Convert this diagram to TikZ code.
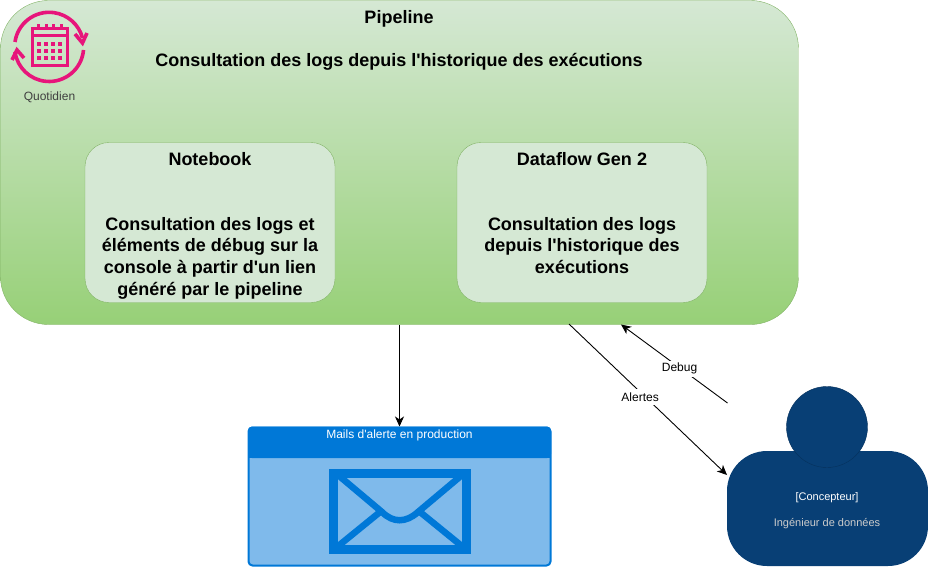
\documentclass[tikz,border=0pt]{standalone}
\usepackage{fontspec}
\setmainfont{Liberation Sans}[Ligatures=TeXOff]
\usetikzlibrary{arrows.meta}

\definecolor{greenline}{HTML}{82B366}
\definecolor{greenpale}{HTML}{D5E8D4}
\definecolor{greenstrong}{HTML}{97D077}
\definecolor{pinkicon}{HTML}{E7157B}
\definecolor{mailblue}{HTML}{0078D7}
\definecolor{mailpale}{HTML}{7FBAEB}
\definecolor{personblue}{HTML}{083F75}
\definecolor{personline}{HTML}{06315C}

\tikzset{
	bigtext/.style={font=\bfseries\fontsize{18}{21.67}\selectfont,align=center,inner sep=0pt},
	smalltext/.style={font=\fontsize{12}{14}\selectfont,align=center,inner sep=0pt},
	activitybox/.style={draw=greenline,fill=greenpale,rounded corners=24pt,minimum width=250pt,minimum height=160pt,bigtext},
	flowline/.style={draw=black,line width=0.9pt,-{Stealth[length=10pt,width=9pt,inset=3pt]}},
	flowlabel/.style={smalltext,fill=white,inner xsep=1pt,inner ysep=0pt,minimum height=16pt},
	pinkline/.style={draw=pinkicon,line width=3.6pt},
	maillines/.style={draw=mailblue,line width=6.5pt},
}

\begin{document}
\begin{tikzpicture}[x=1pt,y=-1pt]
	\useasboundingbox (0,0) rectangle (928,567);

	% pipeline
	\node[draw=greenline,top color=greenpale,bottom color=greenstrong,rounded corners=48pt,minimum width=798pt,minimum height=324pt,inner sep=0pt] (pipeline) at (399.5,162.5) {};
	\node[bigtext] (pipelinetitle) at (399,18.5) {Pipeline};
	\node[bigtext] (pipelinetext) at (399,61.5) {Consultation des logs depuis l'historique des exécutions};

	\node[activitybox] (notebook) at (210,222.5)
	{
		\rule{0pt}{19pt}Notebook\\
		\\
		\\
		Consultation des logs et\\
		éléments de débug sur la\\
		console à partir d'un lien\\
		généré par le pipeline
	};
	\node[activitybox] (dataflow) at (582,222.5)
	{
		\rule{0pt}{15.5pt}Dataflow Gen 2\\
		\\
		\\
		Consultation des logs\\
		depuis l'historique des\\
		exécutions\\
		~
	};

	% calendar icon
	\draw[pinkline] (15,42) arc (172:15:34.5pt);
	\draw[pinkline] (83.5,50) arc (-5:-172:34.5pt);
	\draw[pinkline] (75,34) -- (82.5,43) -- (87,33);
	\draw[pinkline] (12,60) -- (17,50) -- (24,58);
	\draw[pinkicon,line width=3pt] (32,28.5) rectangle (67.5,66);
	\draw[pinkicon,line width=3pt] (32,36) -- (67.5,36);
	\foreach \x in {38.5,46,53.5,61}
	{
		\draw[pinkicon,line width=3pt] (\x,24.5) -- (\x,30);
	}
	\foreach \x in {39,46,53,60}
	{
		\foreach \y in {44,51,58}
		{
			\fill[pinkicon] (\x-1.7,\y-1.7) rectangle (\x+1.7,\y+1.7);
		}
	}
	\node[smalltext,text=black!75] (quotidien) at (49.5,97) {Quotidien};

	% mail
	\node[draw=mailblue,fill=mailpale,line width=2pt,rounded corners=4pt,minimum width=302pt,minimum height=138pt,inner sep=0pt] (mail) at (399.5,496.5) {};
	\fill[mailblue,rounded corners=4pt] (248,426.5) -- (551,426.5) -- (551,458) -- (248,458) -- cycle;
	\fill[mailblue] (248,445) rectangle (551,458);
	\node[smalltext,text=white] (mailtitle) at (399.5,435) {Mails d'alerte en production};
	\draw[draw=mailblue,line width=9pt] (333,473) rectangle (466.5,549.5);
	\draw[maillines] (338,475) -- (382,512) .. controls (393,523) and (406,523) .. (418,512) -- (462,475);
	\draw[maillines] (337,547) -- (380,512);
	\draw[maillines] (463,547) -- (420,512);

	% person
	\node[fill=personblue,rounded corners=40pt,minimum width=201pt,minimum height=115pt,inner sep=0pt] (personbody) at (827.5,508.5) {};
	\node[circle,draw=personline,fill=personblue,minimum size=81pt,inner sep=0pt] (personhead) at (827,427) {};
	\node[font=\fontsize{11}{13}\selectfont,text=white,inner sep=0pt] (personrole) at (827,497.5) {[Concepteur]};
	\node[font=\fontsize{11}{13}\selectfont,text=black!20,inner sep=0pt] (personname) at (827,523.5) {Ingénieur de données};

	% connectors
	\coordinate (alertstart) at (569,324);
	\coordinate (alertend) at (727,475);
	\coordinate (debugstart) at (727.5,403);
	\coordinate (debugend) at (621,324.5);
	\draw[flowline] (pipeline.south) -- (mail.north);
	\draw[flowline] (alertstart) -- node[flowlabel,pos=0.45,yshift=-5pt] (alertlabel) {Alertes} (alertend);
	\draw[flowline] (debugstart) -- node[flowlabel,pos=0.45,yshift=-1pt] (debuglabel) {Debug} (debugend);
\end{tikzpicture}
\end{document}
